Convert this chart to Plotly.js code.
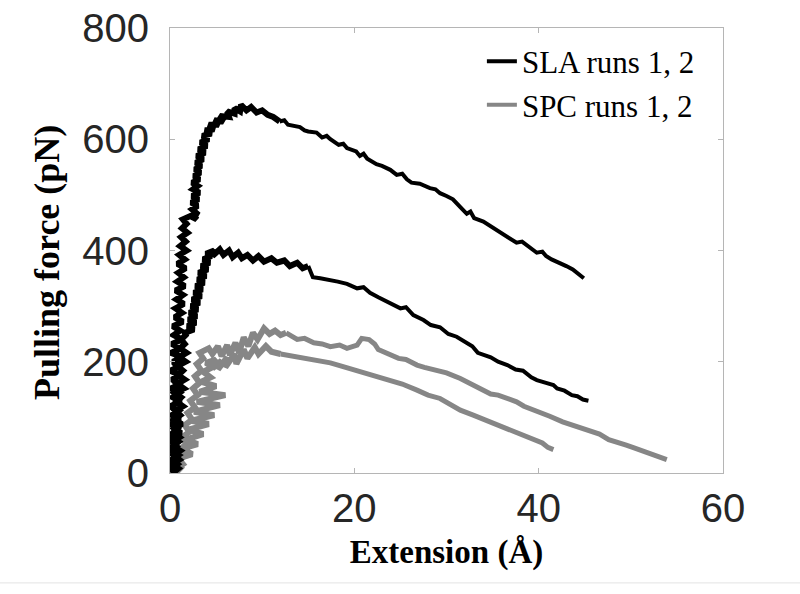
<!DOCTYPE html>
<html>
<head>
<meta charset="utf-8">
<script src="https://cdn.plot.ly/plotly-3.0.1.min.js"></script>
<style>html,body{margin:0;padding:0;background:#fff;}#chart{width:800px;height:594px;}</style>
</head>
<body>
<div id="chart"></div>
<script>
// ---- SLA run 1 (black, upper) : noisy rise + tail ----
var sla1RiseX = [0.5,0.1,0.8,0.2,0.9,0.1,0.7,0.2,1.0,0.3,0.8,0.1,1.1,0.2,0.9,0.0,1.2,0.3,1.0,0.1,1.3,0.2,1.1,0.0,1.2,0.3,1.4,0.1,1.2,0.2,1.3,0.4,1.1,0.3,1.4,0.5,1.3,0.6,1.5,0.7,1.4,0.6,1.6,0.8,1.5,0.9,1.7,0.8,1.6,1.0,1.8,1.1,1.7,1.2,1.9,1.3,1.8,1.4,
  2.2,2.9,2.4,3.1,2.4,3.0,2.3,3.1,2.4,3.2,2.5,3.0,2.4,3.2,2.6,3.3,2.7,3.4,2.8,3.6,2.9,3.8,3.1,4.0,3.3,4.2,3.5,4.5,3.8,4.8,4.2,5.3,4.8,5.8,5.4,6.4,6.2,7.0,7.0,7.6,7.7,8.3,8.8,9.4,10.0,10.6,11.2,11.9];
var sla1RiseY = [0,8,16,24,32,40,48,56,64,72,80,88,96,104,112,120,128,136,144,152,160,168,176,184,192,200,208,216,224,232,240,248,256,264,272,280,288,296,304,312,320,328,336,344,352,360,368,376,384,392,400,408,416,424,432,440,448,456,
  462,456,468,464,474,480,486,492,498,504,510,516,522,528,534,540,546,552,558,564,570,576,582,588,594,600,606,610,616,618,626,626,634,632,642,640,650,646,656,650,662,652,658,648,652,644,640,632];
var sla1TailX = [11.9,12.4,12.8,13.4,14.1,14.6,15.0,15.9,16.5,17.0,17.4,18.3,18.8,19.2,20.2,20.6,21.0,21.4,22.4,23.0,23.9,24.6,25.2,25.7,26.2,27.1,28.2,28.8,29.3,30.0,30.7,31.5,32.2,32.6,33.0,34.0,34.6,35.2,36.0,36.6,37.6,38.2,38.7,39.3,39.8,40.4,40.8,41.4,42.0,42.6,43.0,43.7,44.4,44.9];
var sla1TailY = [632,634,626,624,622,616,614,612,603,606,600,590,592,584,578,570,574,565,555,552,545,536,538,528,522,520,512,510,503,498,492,478,466,470,458,452,446,440,430,424,414,416,410,402,396,398,390,384,380,376,372,366,356,350];

// ---- SLA run 2 (black, lower) ----
var sla2RiseX = [0.3,0.9,0.2,1.0,0.4,1.1,0.3,0.9,0.1,1.2,0.5,1.3,0.4,1.1,0.6,1.4,0.7,1.2,0.5,1.5,0.8,1.6,0.9,1.4,0.8,1.7,1.0,1.8,1.1,1.6,1.2,1.7,
  1.6,2.6,1.9,2.8,2.0,2.9,2.1,3.0,2.3,3.2,2.4,3.4,2.6,3.5,2.8,3.7,3.0,3.9,3.1,4.1,3.4,4.3,3.6,4.5,3.9,4.8,4.6,5.4,5.8,6.4,6.8,7.4,7.8,8.4,9.0,9.6,10.2,11.0,11.6,12.4,13.0,13.8,14.4,15.0];
var sla2RiseY = [0,8,16,24,32,40,48,56,64,72,80,88,96,104,112,120,128,136,144,152,160,168,176,184,192,200,208,216,224,232,240,248,
  252,258,264,270,276,282,288,294,300,306,312,318,324,330,336,342,348,354,360,366,372,378,384,390,394,400,390,402,392,400,388,396,386,392,382,390,380,386,378,382,372,378,368,372];
var sla2TailX = [15.0,15.5,16.3,17.4,18.2,19.2,20.3,21.0,21.7,22.6,23.9,25.0,25.6,26.4,27.5,28.3,29.3,30.2,31.1,31.9,32.8,33.4,34.0,34.8,35.6,36.6,37.5,38.3,39.2,39.8,40.8,41.6,42.0,42.8,43.6,44.2,44.8,45.4];
var sla2TailY = [372,352,350,347,344,340,332,334,324,316,306,296,298,284,275,266,262,250,245,236,228,216,212,208,200,194,186,184,172,167,162,158,152,148,140,138,132,130];

// ---- SPC run 1 (gray, upper) ----
var spc1RiseX = [0.6,1.2,0.8,1.5,1.0,1.8,1.3,2.1,1.6,2.4,1.9,2.7,2.2,3.0,2.5,3.2,2.7,3.4,2.9,3.6,3.2,4.2,4.6,5.2,5.6,6.2,6.5,7.1,7.5,8.0,8.5,9.0,9.5,10.2,10.8,11.4,12.0,12.6];
var spc1RiseY = [0,10,20,30,42,52,64,74,86,96,108,118,130,140,152,162,174,184,196,206,216,224,214,228,210,230,212,234,216,244,228,252,240,260,250,256,248,252];
var spc1TailX = [12.6,13.8,14.6,15.6,16.5,17.4,18.4,19.2,20.3,20.8,21.6,22.2,22.6,23.2,23.9,24.8,25.6,26.8,27.6,28.4,29.3,30.0,31.5,32.9,34.0,34.8,35.6,36.6,37.6,38.4,40.1,41.2,42.6,43.6,44.6,45.6,46.6,47.6,48.5,49.5,50.2,51.0,52.0,53.0,53.9];
var spc1TailY = [252,240,242,234,232,227,230,224,230,242,240,232,222,218,212,206,204,194,190,186,183,180,170,158,150,142,140,135,128,120,110,102,92,86,80,74,70,60,56,50,46,41,36,30,24];

// ---- SPC run 2 (gray, lower) ----
var spc2RiseX = [0.4,1.4,0.9,2.4,1.3,3.0,1.7,3.6,2.0,4.2,2.3,4.8,2.6,5.4,2.9,6.0,3.2,5.0,3.4,4.4,3.6,4.6,3.9,5.0,4.6,5.6,5.2,6.2,6.0,7.0,7.2,8.0,8.4,9.2,9.6,10.4,11.0,12.0];
var spc2RiseY = [5,16,26,34,44,52,60,70,78,88,94,104,110,122,128,140,146,156,164,172,182,190,198,204,188,202,186,208,190,214,196,222,206,226,214,228,218,214];
var spc2TailX = [12.0,13.8,15.0,16.2,17.4,18.6,19.8,20.9,22.0,23.9,25.2,26.8,28.0,29.3,30.4,31.5,32.9,34.4,35.8,36.8,37.8,38.7,39.6,40.4,41.0,41.6];
var spc2TailY = [214,209,204,202,198,192,186,180,176,167,160,149,140,134,124,113,104,94,83,76,70,65,58,54,46,42];

var xTicks = [0, 20, 40, 60];
var yTicks = [0, 200, 400, 600, 800];

var BLACK = '#000000';
var GRAY = '#868686';

function tr(x, y, name, group, show, color, width) {
  return {x: x, y: y, mode: 'lines', name: name, legendgroup: group, showlegend: show,
          line: {color: color, width: width}};
}

var traces = [
  tr(spc1TailX, spc1TailY, 'SPC runs 1, 2', 'spc', false, GRAY, 5),
  tr(spc2TailX, spc2TailY, 'SPC runs 1, 2', 'spc', false, GRAY, 5),
  tr(spc1RiseX, spc1RiseY, 'SPC runs 1, 2', 'spc', false, GRAY, 6),
  tr(spc2RiseX, spc2RiseY, 'SPC runs 1, 2', 'spc', false, GRAY, 6),
  tr(sla1TailX, sla1TailY, 'SLA runs 1, 2', 'sla', true, BLACK, 4),
  tr(sla2TailX, sla2TailY, 'SLA runs 1, 2', 'sla', false, BLACK, 4),
  tr(sla1RiseX, sla1RiseY, 'SLA runs 1, 2', 'sla', false, BLACK, 6),
  tr(sla2RiseX, sla2RiseY, 'SLA runs 1, 2', 'sla', false, BLACK, 6),
  // legend entry for SPC shown after SLA
  {x: [null], y: [null], mode: 'lines', name: 'SPC runs 1, 2', legendgroup: 'spc', showlegend: true,
   line: {color: GRAY, width: 4}}
];

var tickFont = {family: 'Liberation Sans, Arial, sans-serif', size: 40, color: '#262626'};
var titleFontX = {family: 'Liberation Serif, Times New Roman, serif', size: 33, color: '#000'};

var layout = {
  width: 800, height: 594,
  margin: {l: 170, r: 77, t: 28, b: 121},
  paper_bgcolor: '#fff', plot_bgcolor: '#fff',
  showlegend: true,
  legend: {x: 0.564, y: 0.985, xanchor: 'left', yanchor: 'top',
           bgcolor: 'rgba(0,0,0,0)', borderwidth: 0,
           font: {family: 'Liberation Serif, Times New Roman, serif', size: 31, color: '#000'},
           traceorder: 'normal'},
  xaxis: {range: [0, 60], tickvals: xTicks, ticktext: xTicks.map(String),
          showgrid: false, zeroline: false, showline: true, linecolor: '#b5b5b5', linewidth: 1,
          mirror: 'ticks', ticks: 'inside', ticklen: 5, tickcolor: '#b5b5b5',
          tickfont: tickFont, automargin: false,
          title: {text: '<b>Extension (Å)</b>', font: titleFontX, standoff: 10}},
  yaxis: {range: [0, 800], tickvals: yTicks, ticktext: yTicks.map(String),
          showgrid: false, zeroline: false, showline: true, linecolor: '#b5b5b5', linewidth: 1,
          mirror: 'ticks', ticks: 'inside', ticklen: 5, tickcolor: '#b5b5b5',
          tickfont: tickFont, automargin: false, ticklabelstandoff: 12},
  annotations: [{text: '<b>Pulling force (pN)</b>', xref: 'paper', yref: 'paper',
                 x: -0.2224, y: 0.472, xanchor: 'center', yanchor: 'middle', textangle: -90,
                 showarrow: false,
                 font: {family: 'Liberation Serif, Times New Roman, serif', size: 36, color: '#000'}}],
  shapes: [{type: 'line', xref: 'paper', yref: 'paper', x0: -0.31, x1: 1.15, y0: -0.247, y1: -0.247,
            line: {color: '#e3e3e3', width: 1}}]
};

Plotly.newPlot('chart', traces, layout, {displayModeBar: false, staticPlot: true});
</script>
</body>
</html>
